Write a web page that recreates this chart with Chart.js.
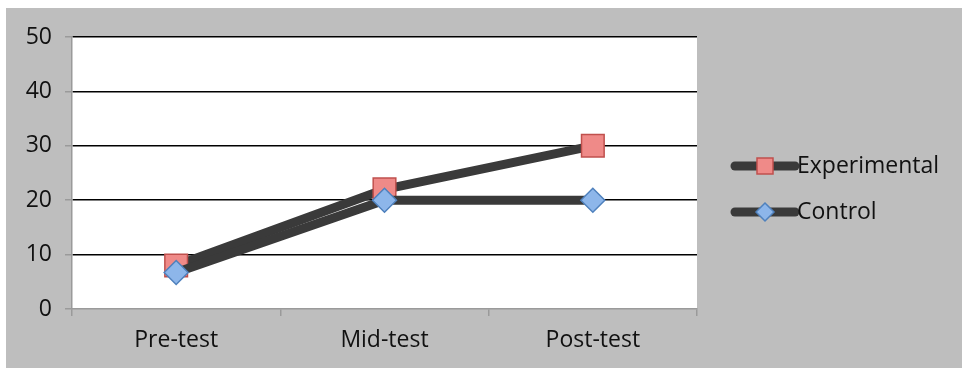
<!DOCTYPE html>
<html>
<head>
<meta charset="utf-8">
<style>
  html, body { margin: 0; padding: 0; background: #ffffff; }
  #wrap { width: 962px; height: 368px; position: relative; }
</style>
<script src="https://cdn.jsdelivr.net/npm/chart.js@4/dist/chart.umd.min.js"></script>
</head>
<body>
<div id="wrap"><canvas id="chart" width="962" height="368"></canvas></div>
<script>
// Test phases and mean scores per group
const phases = ['Pre-test', 'Mid-test', 'Post-test'];
const experimentalScores = [8, 22, 30];
const controlScores = [6.7, 20, 20];
const yTicks = [0, 10, 20, 30, 40, 50];

const FONT = '"Open Sans", Lato, sans-serif';
const LINE_COLOR = '#3a3a3a';
const AXIS_GRAY = '#9a9a9a';

// Gray frame behind everything, white plot area
const backdrop = {
  id: 'backdrop',
  beforeDraw(chart) {
    const { ctx, chartArea: a } = chart;
    ctx.save();
    ctx.fillStyle = '#bebebe';
    ctx.fillRect(6, 8, chart.width - 6, chart.height - 8);
    ctx.fillStyle = '#ffffff';
    ctx.fillRect(a.left, a.top, a.right - a.left, a.bottom - a.top);
    ctx.restore();
  }
};

// Legend: thick line with the series marker in the middle
const sideLegend = {
  id: 'sideLegend',
  afterDraw(chart) {
    const { ctx } = chart;
    const x0 = 735, x1 = 795;
    const rows = [166, 212];
    chart.data.datasets.forEach((ds, i) => {
      const y = rows[i];
      ctx.save();
      ctx.strokeStyle = ds.borderColor;
      ctx.lineWidth = 9;
      ctx.lineCap = 'round';
      ctx.beginPath();
      ctx.moveTo(x0, y);
      ctx.lineTo(x1, y);
      ctx.stroke();
      const cx = (x0 + x1) / 2;
      ctx.fillStyle = ds.pointBackgroundColor;
      ctx.strokeStyle = ds.pointBorderColor;
      ctx.lineWidth = 1.5;
      ctx.beginPath();
      if (ds.pointStyle === 'rect') {
        ctx.rect(cx - 8, y - 8, 16, 16);
      } else {
        ctx.moveTo(cx, y - 9); ctx.lineTo(cx + 9, y); ctx.lineTo(cx, y + 9); ctx.lineTo(cx - 9, y); ctx.closePath();
      }
      ctx.fill();
      ctx.stroke();
      ctx.fillStyle = '#111111';
      ctx.font = '23px ' + FONT;
      ctx.textBaseline = 'middle';
      ctx.textAlign = 'left';
      ctx.fillText(ds.label, x1 + 2, y);
      ctx.restore();
    });
  }
};

new Chart(document.getElementById('chart'), {
  type: 'line',
  data: {
    labels: phases,
    datasets: [
      {
        label: 'Experimental',
        data: experimentalScores,
        order: 1,
        borderColor: LINE_COLOR,
        borderWidth: 9,
        pointStyle: 'rect',
        pointRadius: 16,
        pointHoverRadius: 16,
        pointBackgroundColor: '#ef8a88',
        pointBorderColor: '#c0504d',
        pointBorderWidth: 1.5,
        tension: 0
      },
      {
        label: 'Control',
        data: controlScores,
        order: 0,
        borderColor: LINE_COLOR,
        borderWidth: 9,
        pointStyle: 'rectRot',
        pointRadius: 12,
        pointHoverRadius: 12,
        pointBackgroundColor: '#8db6ea',
        pointBorderColor: '#4f81bd',
        pointBorderWidth: 1.5,
        tension: 0
      }
    ]
  },
  options: {
    responsive: false,
    animation: false,
    events: [],
    layout: { padding: { left: 0, right: 265, top: 37, bottom: 0 } },
    plugins: { legend: { display: false }, tooltip: { enabled: false } },
    scales: {
      x: {
        offset: true,
        grid: {
          offset: true,
          drawOnChartArea: false,
          tickColor: AXIS_GRAY,
          tickLength: 7,
          lineWidth: 1.5
        },
        border: { color: AXIS_GRAY, width: 1.5 },
        ticks: { color: '#111111', font: { family: FONT, size: 23 }, padding: 11 },
        afterFit(scale) { scale.height = 59; }
      },
      y: {
        min: 0,
        max: 50,
        afterBuildTicks(scale) { scale.ticks = yTicks.map(v => ({ value: v })); },
        grid: {
          color: ctx => (ctx.tick && ctx.tick.value === 0 ? 'rgba(0,0,0,0)' : '#000000'),
          lineWidth: 1.5,
          tickColor: AXIS_GRAY,
          tickLength: 7
        },
        border: { color: AXIS_GRAY, width: 1.5 },
        ticks: { color: '#111111', font: { family: FONT, size: 23 }, padding: 13 },
        afterFit(scale) { scale.width = 72; }
      }
    }
  },
  plugins: [backdrop, sideLegend]
});
</script>
</body>
</html>
